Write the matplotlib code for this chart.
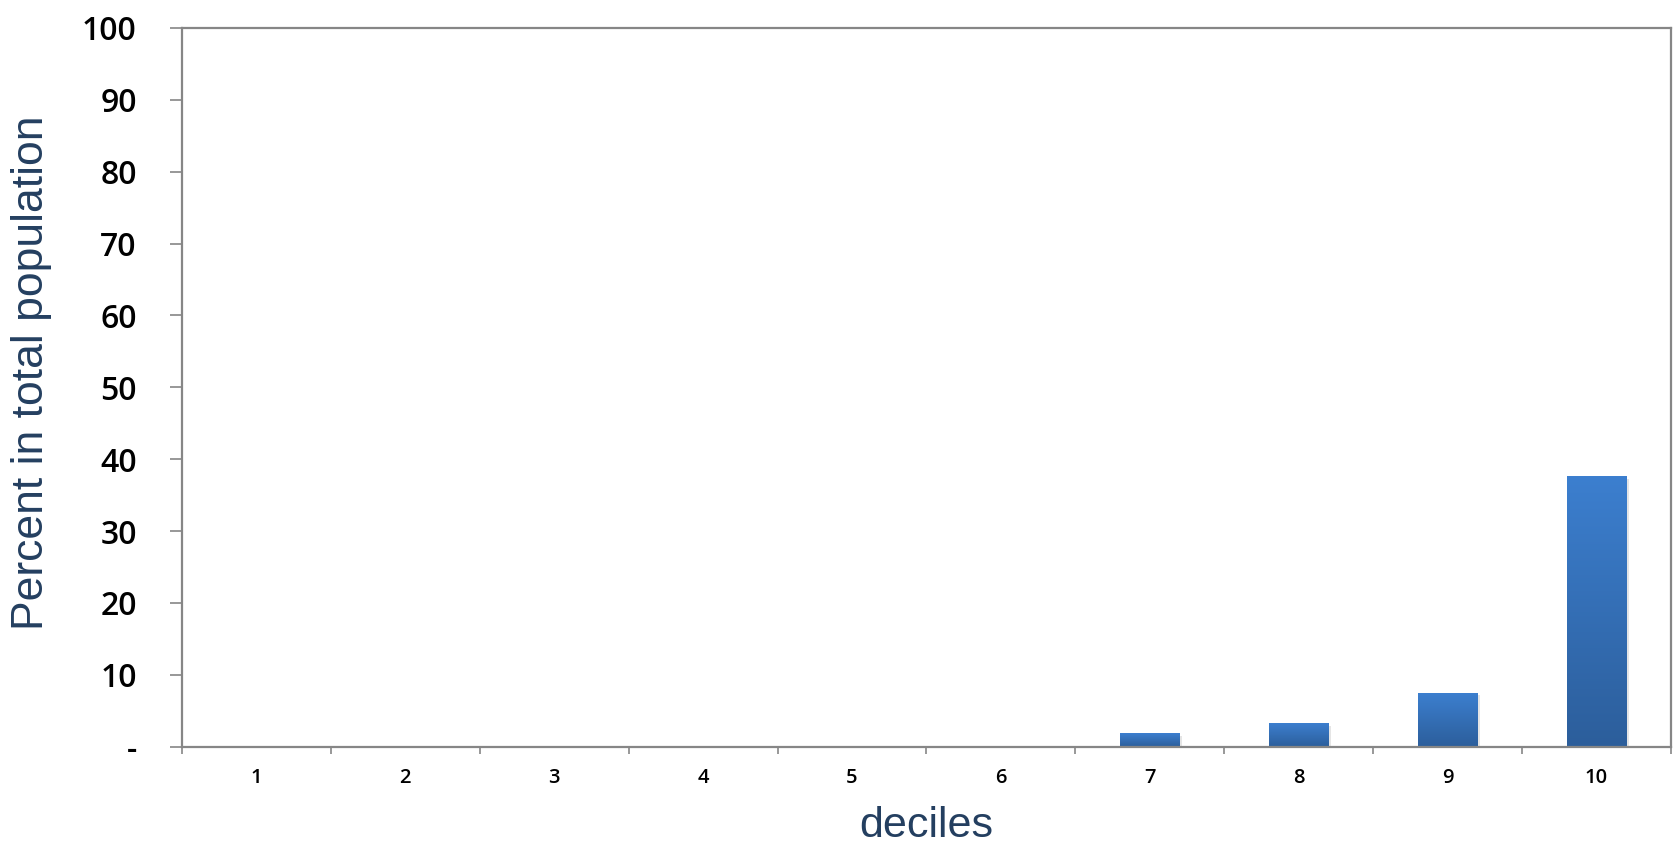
import numpy as np
import matplotlib
matplotlib.use("Agg")
import matplotlib.pyplot as plt
from matplotlib.colors import LinearSegmentedColormap
from matplotlib.ticker import FixedLocator, FuncFormatter

deciles = ["1", "2", "3", "4", "5", "6", "7", "8", "9", "10"]
percent = [0, 0, 0, 0, 0, 0, 1.9, 3.3, 7.5, 37.6]
y_ticks = [0, 10, 20, 30, 40, 50, 60, 70, 80, 90, 100]

axis_grey = "#868686"
label_blue = "#243f60"

fig = plt.figure(figsize=(16.77, 8.43), dpi=100)
ax = fig.add_axes([0.1085, 0.1142, 0.8879, 0.8526])

x = np.arange(len(deciles))

# top-to-bottom shading inside each bar
grad = LinearSegmentedColormap.from_list("bar", ["#2c5e9b", "#3c7fcf"])
width = 0.4
for xi, v in zip(x, percent):
    if v <= 0:
        continue
    # soft drop shadow
    ax.bar(xi + 0.012, v, width=width + 0.01, bottom=-0.35, color="#000000",
           alpha=0.10, linewidth=0, zorder=1)
    bar = ax.bar(xi, v, width=width, color="none", linewidth=0, zorder=2)[0]
    img = ax.imshow(np.linspace(0, 1, 256).reshape(-1, 1), cmap=grad,
                    extent=[xi - width / 2, xi + width / 2, 0, v],
                    origin="lower", aspect="auto", zorder=2)
    img.set_clip_path(bar)

ax.set_xlim(-0.5, len(deciles) - 0.5)
ax.set_ylim(0, 100)

for side in ["left", "bottom", "right", "top"]:
    ax.spines[side].set_color(axis_grey)
    ax.spines[side].set_linewidth(1.6)

ax.set_yticks(y_ticks)
ax.yaxis.set_major_formatter(FuncFormatter(lambda v, p: "-" if v == 0 else f"{v:.0f}"))
ax.tick_params(axis="y", direction="out", length=8.5, width=1.2, color=axis_grey,
               pad=24, labelsize=23, labelcolor="black")
for lab in ax.get_yticklabels():
    lab.set_family("Open Sans")
    lab.set_fontweight(600)

ax.set_xticks(x)
ax.set_xticklabels(deciles, family="Open Sans", fontweight=600)
ax.xaxis.set_minor_locator(FixedLocator(np.arange(-0.5, len(deciles), 1.0)))
ax.tick_params(axis="x", which="major", length=0, pad=15, labelsize=14.5, labelcolor="black")
ax.tick_params(axis="x", which="minor", direction="out", length=5, width=1.2, color=axis_grey)

ax.set_xlabel("deciles", family="Liberation Sans", fontsize=31, color=label_blue, labelpad=13)
ax.set_ylabel("Percent in total population", family="Liberation Sans", fontsize=32,
              color=label_blue)
ax.yaxis.set_label_coords(-0.087, 0.52)

fig.savefig("out.png", dpi=100)
